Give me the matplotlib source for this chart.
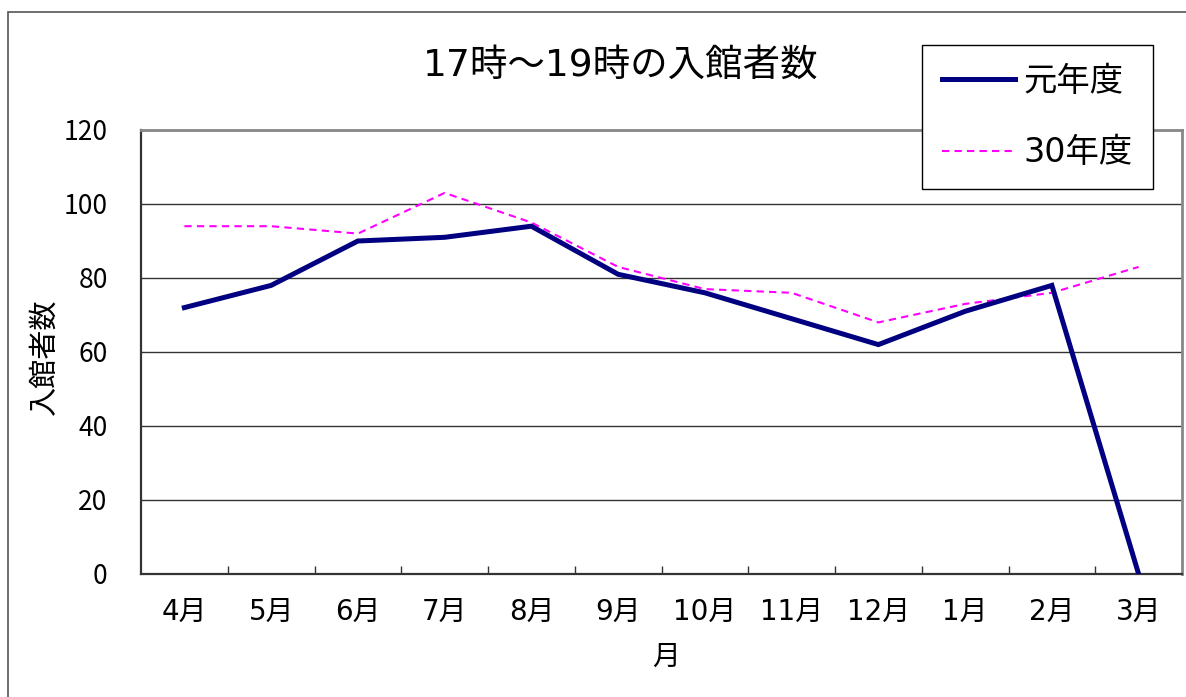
import numpy as np
import matplotlib
matplotlib.use("Agg")
import matplotlib.pyplot as plt
from matplotlib.patches import Rectangle

# DejaVu gives the wide tabular digits, Noto CJK fills in the kanji
plt.rcParams["font.family"] = ["DejaVu Sans", "Noto Sans CJK JP"]

# data
months = ["4月", "5月", "6月", "7月", "8月", "9月", "10月", "11月", "12月", "1月", "2月", "3月"]
visitors_r1 = [72, 78, 90, 91, 94, 81, 76, 69, 62, 71, 78, 0]      # 元年度
visitors_h30 = [94, 94, 92, 103, 95, 83, 77, 76, 68, 73, 76, 83]   # 30年度
series_names = ["元年度", "30年度"]
y_ticks = [0, 20, 40, 60, 80, 100, 120]

W, H = 1186, 697
fig = plt.figure(figsize=(W / 100, H / 100), dpi=100)
ax = fig.add_axes([141 / W, 1 - 574 / H, (1182 - 141) / W, (574 - 130) / H])

x = np.arange(len(months))
ax.plot(x, visitors_r1, color="#000080", lw=3.6, solid_joinstyle="miter",
        label=series_names[0], zorder=4)
ax.plot(x, visitors_h30, color="#FF00FF", lw=1.5, dashes=(3.5, 2.5),
        label=series_names[1], zorder=3)

ax.set_xlim(-0.5, len(months) - 0.5)
ax.set_ylim(0, 120)
ax.set_yticks(y_ticks)
ax.set_xticks(x)
ax.set_xticklabels(months)
ax.set_xticks(np.arange(0.5, len(months) - 1, 1), minor=True)
ax.tick_params(axis="y", length=0, pad=24, labelsize=19)
ax.tick_params(axis="x", which="major", length=0, pad=17, labelsize=20)
ax.tick_params(axis="x", which="minor", direction="in", length=6, width=1, color="#333333")
for lbl in ax.get_yticklabels():
    lbl.set_fontfamily(["Noto Sans CJK JP", "DejaVu Sans"])
ax.yaxis.grid(True, color="#333333", lw=1.0)
ax.set_axisbelow(True)

for side in ("left", "bottom"):
    ax.spines[side].set_color("#333333")
    ax.spines[side].set_linewidth(1.6)
for side in ("top", "right"):
    ax.spines[side].set_color("#888888")
    ax.spines[side].set_linewidth(2.0)

fig.text(45 / W, 1 - 357 / H, "入館者数", fontsize=21, rotation=90, ha="center", va="center")
fig.text(666 / W, 1 - 657 / H, "月", fontsize=20, ha="center", va="center")
fig.text(621 / W, 1 - 66 / H, "17時～19時の入館者数", fontsize=27, ha="center", va="center")

leg = fig.legend(loc="upper left", bbox_to_anchor=(922 / W, 1 - 45 / H),
                 fontsize=24, handlelength=2.2, labelspacing=1.15,
                 borderpad=0.6, handletextpad=0.25, borderaxespad=0,
                 fancybox=False, framealpha=1, edgecolor="black")
leg.get_frame().set_linewidth(1.0)

# outer chart frame (cropped on the right and bottom)
fig.patches.append(Rectangle((8 / W, -0.2), 1.5, 1.2 - 12 / H, transform=fig.transFigure,
                             fill=False, ec="#555555", lw=1.2))

fig.savefig("out.png", dpi=100)
